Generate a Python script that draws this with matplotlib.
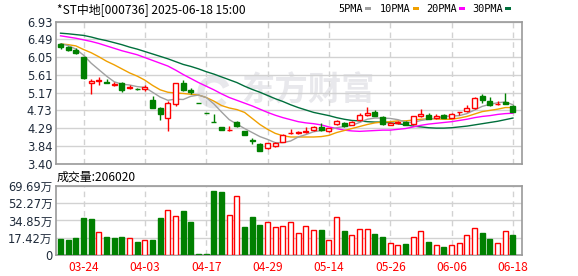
import matplotlib
matplotlib.use("Agg")
import matplotlib.pyplot as plt
from matplotlib.patches import Rectangle, Arc

# ---------------- data ----------------
# 60 daily sessions, 2025-03-19 .. 2025-06-18
opens  = [6.37, 6.29, 6.24, 6.05, 5.40, 5.45, 5.43, 5.36, 5.40, 5.29,
          5.27, 5.25, 5.00, 4.78, 4.54, 4.89, 5.40, 5.23, 4.92, 4.67,
          4.44, 4.32, 4.24, 4.44, 4.21, 3.99, 3.90, 3.79, 3.84, 3.95,
          4.16, 4.16, 4.19, 4.24, 4.31, 4.22, 4.40, 4.42, 4.37, 4.48,
          4.62, 4.68, 4.57, 4.37, 4.41, 4.44, 4.39, 4.59, 4.62, 4.53,
          4.62, 4.55, 4.68, 4.71, 4.79, 5.08, 4.97, 4.88, 4.95, 4.84]
highs  = [6.40, 6.32, 6.27, 6.06, 5.52, 5.55, 5.52, 5.43, 5.43, 5.37,
          5.29, 5.36, 5.09, 4.81, 4.97, 5.42, 5.48, 5.29, 4.92, 4.67,
          4.64, 4.33, 4.34, 4.46, 4.22, 4.05, 3.91, 3.93, 3.95, 4.14,
          4.28, 4.23, 4.32, 4.34, 4.42, 4.30, 4.49, 4.45, 4.47, 4.66,
          4.81, 4.75, 4.58, 4.44, 4.47, 4.46, 4.60, 4.76, 4.67, 4.65,
          4.63, 4.67, 4.69, 4.86, 5.05, 5.13, 5.05, 4.97, 5.16, 4.86]
lows   = [6.26, 6.21, 6.13, 5.52, 5.14, 5.37, 5.40, 5.33, 5.19, 5.25,
          5.24, 5.21, 4.80, 4.50, 4.21, 4.85, 5.21, 5.13, 4.92, 4.67,
          4.44, 4.24, 4.23, 4.32, 4.11, 3.90, 3.72, 3.76, 3.81, 3.94,
          4.15, 4.15, 4.18, 4.22, 4.23, 4.20, 4.37, 4.33, 4.36, 4.47,
          4.58, 4.58, 4.36, 4.36, 4.39, 4.36, 4.37, 4.57, 4.51, 4.52,
          4.53, 4.54, 4.62, 4.70, 4.77, 4.91, 4.85, 4.87, 4.88, 4.68]
closes = [6.29, 6.23, 6.15, 5.53, 5.45, 5.48, 5.40, 5.38, 5.24, 5.32,
          5.25, 5.31, 4.80, 4.64, 4.91, 5.40, 5.24, 5.18, 4.92, 4.67,
          4.44, 4.24, 4.25, 4.34, 4.11, 3.96, 3.73, 3.91, 3.92, 4.13,
          4.17, 4.20, 4.21, 4.31, 4.24, 4.29, 4.46, 4.35, 4.45, 4.62,
          4.66, 4.60, 4.38, 4.41, 4.43, 4.37, 4.58, 4.63, 4.52, 4.60,
          4.55, 4.63, 4.69, 4.80, 5.04, 4.98, 4.87, 4.89, 4.90, 4.69]
prev_close = 6.40  # close of the session before the first bar

# volume in 万 (10k shares)
volume = [16.2, 15.2, 17.2, 37.4, 36.4, 22.9, 17.8, 17.2, 17.8, 16.8,
          13.1, 15.2, 15.2, 37.4, 45.1, 39.4, 44.4, 33.3, 0.9, 1.3,
          64.6, 63.6, 40.4, 59.6, 28.3, 38.4, 30.3, 33.0, 28.0, 29.0,
          33.0, 22.2, 29.0, 24.9, 24.9, 14.8, 38.1, 23.9, 19.9, 26.0,
          26.0, 21.2, 17.9, 11.8, 9.8, 11.1, 17.9, 23.9, 13.1, 9.8,
          7.7, 9.8, 11.8, 19.9, 27.0, 22.2, 16.2, 11.8, 23.9, 20.6]

ma5  = [6.38, 6.34, 6.25, 6.10, 5.90, 5.74, 5.58, 5.44, 5.38, 5.36,
        5.32, 5.30, 5.18, 5.06, 4.98, 5.01, 5.00, 5.08, 5.11, 5.05,
        4.89, 4.69, 4.50, 4.39, 4.28, 4.18, 4.08, 4.01, 3.93, 3.93,
        3.97, 4.07, 4.13, 4.20, 4.23, 4.25, 4.30, 4.33, 4.36, 4.43,
        4.51, 4.54, 4.54, 4.53, 4.50, 4.44, 4.43, 4.48, 4.51, 4.54,
        4.58, 4.59, 4.60, 4.65, 4.74, 4.83, 4.88, 4.92, 4.94, 4.87]
ma10 = [6.38, 6.36, 6.33, 6.24, 6.16, 6.06, 5.95, 5.86, 5.76, 5.66,
        5.58, 5.48, 5.35, 5.24, 5.18, 5.16, 5.15, 5.13, 5.11, 5.05,
        4.96, 4.85, 4.79, 4.75, 4.68, 4.53, 4.38, 4.26, 4.16, 4.10,
        4.07, 4.07, 4.07, 4.07, 4.08, 4.11, 4.18, 4.23, 4.28, 4.33,
        4.38, 4.42, 4.44, 4.45, 4.47, 4.47, 4.49, 4.51, 4.52, 4.52,
        4.51, 4.51, 4.54, 4.58, 4.64, 4.70, 4.73, 4.76, 4.80, 4.80]
ma20 = [6.58, 6.55, 6.52, 6.48, 6.44, 6.39, 6.33, 6.27, 6.21, 6.16,
        6.11, 6.04, 5.97, 5.90, 5.83, 5.73, 5.62, 5.52, 5.42, 5.33,
        5.24, 5.14, 5.05, 4.98, 4.91, 4.84, 4.76, 4.68, 4.61, 4.55,
        4.50, 4.45, 4.42, 4.40, 4.37, 4.32, 4.28, 4.24, 4.22, 4.21,
        4.22, 4.23, 4.24, 4.24, 4.26, 4.28, 4.32, 4.36, 4.39, 4.41,
        4.43, 4.45, 4.48, 4.51, 4.55, 4.58, 4.60, 4.63, 4.65, 4.66]
ma30 = [6.645, 6.63, 6.61, 6.59, 6.55, 6.50, 6.46, 6.41, 6.36, 6.30,
        6.25, 6.19, 6.13, 6.07, 6.01, 5.94, 5.87, 5.82, 5.76, 5.69,
        5.63, 5.56, 5.49, 5.42, 5.33, 5.25, 5.18, 5.10, 5.02, 4.95,
        4.87, 4.80, 4.74, 4.68, 4.64, 4.60, 4.55, 4.51, 4.48, 4.47,
        4.45, 4.44, 4.44, 4.42, 4.40, 4.37, 4.34, 4.32, 4.30, 4.29,
        4.29, 4.30, 4.32, 4.34, 4.37, 4.40, 4.43, 4.46, 4.50, 4.54]

date_ticks  = [3, 11, 19, 27, 35, 43, 51, 59]
date_labels = ["03-24", "04-03", "04-17", "04-29", "05-14", "05-26", "06-06", "06-18"]
price_ticks = [3.40, 3.84, 4.29, 4.73, 5.17, 5.61, 6.05, 6.49, 6.93]
vol_ticks   = [0, 17.42, 34.85, 52.27, 69.69]
vol_labels  = ["0", "17.42万", "34.85万", "52.27万", "69.69万"]

ma_names  = ["5PMA", "10PMA", "20PMA", "30PMA"]
ma_colors = ["#a0a0a0", "#f0a000", "#ff00ff", "#006f3c"]

title = "*ST中地[000736] 2025-06-18 15:00"
vol_title = "成交量:206020"

# ---------------- style ----------------
RED = "#ff0000"
GREEN = "#008000"
GRID = "#d2d2d2"
BORDER = "#9a9a9a"
LABEL = "#1e2a3a"
CJK = ["Noto Sans CJK SC", "DejaVu Sans"]
NUM = ["DejaVu Sans", "Noto Sans CJK SC"]

n = len(closes)
xs = list(range(n))

fig = plt.figure(figsize=(5.78, 2.76), dpi=100)
fig.patch.set_facecolor("white")

ax1 = fig.add_axes([56 / 578, 1 - 164 / 276, 466 / 578, 142.3 / 276])
ax2 = fig.add_axes([56 / 578, 1 - 255 / 276, 466 / 578, 69 / 276])

for ax in (ax1, ax2):
    ax.set_xlim(-0.59, 60.18)
    for s in ax.spines.values():
        s.set_color(BORDER)
        s.set_linewidth(1.2)
    ax.tick_params(length=0, colors=LABEL)
    ax.vlines(date_ticks, 0, 1, transform=ax.get_xaxis_transform(),
              colors=GRID, linewidth=1, linestyles=(0, (4, 3)), zorder=1)

# ---- price panel ----
ax1.set_ylim(3.40, 6.93)
ax1.set_yticks(price_ticks)
ax1.set_yticklabels([f"{t:.2f}" for t in price_ticks], fontsize=8.3, family=NUM)
ax1.set_xticks([])
ax1.tick_params(axis="y", pad=2.5)
for t in price_ticks:
    ax1.axhline(t, color=GRID, linewidth=1, zorder=1)

# watermark
ax1.text(308 / 578, 1 - 91 / 276, "东方财富", transform=fig.transFigure,
         ha="center", va="center", fontsize=24, fontweight="bold",
         family=CJK, color="#e8e8ec", zorder=0.5)
ax1.add_patch(Arc((214 / 578, 1 - 92 / 276), 26 / 578, 26 / 276,
                  theta1=40, theta2=300, transform=fig.transFigure,
                  color="#e8e8ec", linewidth=5, zorder=0.5))

for ma, col in zip([ma30, ma20, ma10, ma5], ma_colors[::-1]):
    ax1.plot(xs, ma, color=col, linewidth=1, zorder=2)

for i in xs:
    o, h, l, c = opens[i], highs[i], lows[i], closes[i]
    pc = prev_close if i == 0 else closes[i - 1]
    up = c > o or (c == o and c >= pc)
    col = RED if up else GREEN
    top, bot = max(o, c), min(o, c)
    ax1.vlines(i, top, h, color=col, linewidth=1, zorder=3)
    ax1.vlines(i, l, bot, color=col, linewidth=1, zorder=3)
    ax1.bar(i, top - bot, bottom=bot, width=0.64,
            facecolor="white" if up else col, edgecolor=col,
            linewidth=1, zorder=4)

# ---- volume panel ----
ax2.set_ylim(0, 69.69)
ax2.set_yticks(vol_ticks)
ax2.set_yticklabels(vol_labels, fontsize=8.3, family=NUM)
ax2.tick_params(axis="y", pad=2.5)
for t in vol_ticks[1:]:
    ax2.axhline(t, color=GRID, linewidth=1, zorder=1)
ax2.set_xticks(date_ticks)
ax2.set_xticklabels(date_labels, fontsize=8.6, family=CJK, color=RED)
ax2.tick_params(axis="x", pad=4)

for i in xs:
    pc = prev_close if i == 0 else closes[i - 1]
    up = closes[i] > pc
    col = RED if up else GREEN
    ax2.bar(i, volume[i], width=0.64, facecolor="white" if up else col,
            edgecolor=col, linewidth=1, zorder=3)

# ---- texts ----
fig.text(57 / 578, 1 - 10 / 276, title, fontsize=8.6, family=CJK,
         color="black", va="center", ha="left")
fig.text(57 / 578, 1 - 177.5 / 276, vol_title, fontsize=8.6, family=CJK,
         color="black", va="center", ha="left")

# legend at top right: label then a small colour swatch
legend_x = [338, 380, 426, 472]
swatch_x = [365, 413, 459, 505]
for name, col, lx, sx in zip(ma_names, ma_colors, legend_x, swatch_x):
    fig.text(lx / 578, 1 - 9.5 / 276, name, fontsize=7.4,
             family=["DejaVu Sans Mono"], color="black", va="center", ha="left")
    fig.patches.append(Rectangle((sx / 578, 1 - 10 / 276), 6 / 578, 2.5 / 276,
                                 transform=fig.transFigure, facecolor=col,
                                 edgecolor="none"))

fig.savefig("out.png", dpi=100)
